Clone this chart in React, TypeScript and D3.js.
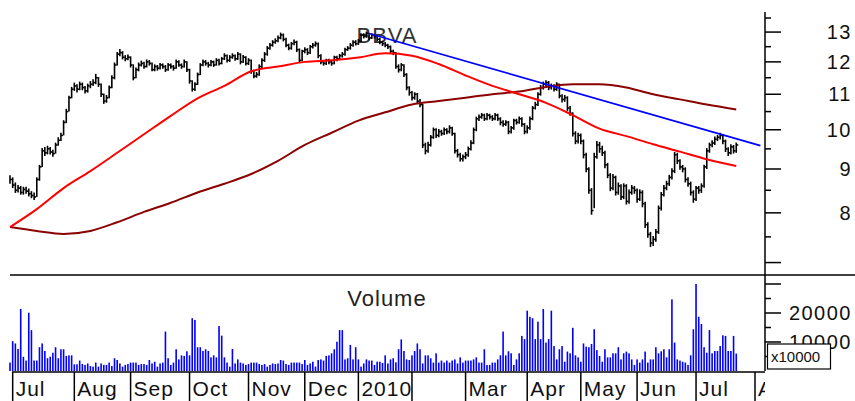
import React from "react";
import * as d3 from "d3";

const W = 855;
const H = 401;
const FONT = "'Liberation Sans', Arial, sans-serif";

// trading days start 2009-06-30; these are closed days skipped by the exchange
const holidays = ["2009-12-24", "2009-12-25", "2009-12-31", "2010-01-01", "2010-04-02", "2010-04-05"];
const monthLabels = ["Jul", "Aug", "Sep", "Oct", "Nov", "Dec", "2010", "", "Mar", "Apr", "May", "Jun", "Jul", "Aug"];

// daily bars (HLC), one per trading day
const close = [
  8.75, 8.62, 8.50, 8.55, 8.45, 8.52, 8.48, 8.42, 8.38, 8.35,
  8.75, 9.05, 9.45, 9.40, 9.50, 9.42, 9.38, 9.60, 9.72, 9.85,
  10.20, 10.50, 10.90, 11.15, 11.25, 11.15, 11.30, 11.20, 11.10, 11.25,
  11.30, 11.35, 11.50, 11.30, 11.00, 10.80, 10.90, 11.20, 11.50, 11.90,
  12.25, 12.30, 12.15, 12.10, 12.15, 11.90, 11.50, 11.75, 11.90, 11.95,
  11.85, 12.00, 11.95, 11.75, 11.85, 11.80, 11.90, 11.85, 11.75, 11.90,
  11.85, 11.80, 12.00, 11.90, 11.85, 12.00, 11.75, 11.40, 11.15, 11.30,
  11.60, 11.90, 12.00, 11.95, 11.90, 12.00, 11.90, 12.05, 11.95, 12.10,
  12.20, 12.05, 12.15, 12.20, 12.10, 12.25, 12.00, 12.15, 11.95, 12.05,
  11.70, 11.55, 11.60, 11.85, 12.05, 12.25, 12.45, 12.55, 12.65, 12.70,
  12.80, 12.90, 12.75, 12.55, 12.45, 12.60, 12.65, 12.40, 12.05, 12.35,
  12.40, 12.30, 12.50, 12.55, 12.60, 12.20, 12.00, 11.95, 12.05, 12.00,
  11.95, 12.15, 12.10, 12.20, 12.25, 12.40, 12.45, 12.55, 12.65, 12.60,
  12.70, 12.90, 12.85, 12.95, 12.80, 12.90, 12.85, 12.75, 12.65, 12.60,
  12.55, 12.50, 12.35, 12.30, 11.85, 11.75, 11.90, 11.60, 11.20, 11.05,
  10.90, 11.00, 10.80, 10.70, 9.60, 9.45, 9.60, 9.80, 10.00, 9.85,
  9.95, 9.90, 10.00, 9.95, 10.05, 9.90, 9.45, 9.35, 9.25, 9.30,
  9.35, 9.50, 9.65, 10.00, 10.30, 10.35, 10.40, 10.30, 10.40, 10.35,
  10.30, 10.40, 10.30, 10.20, 10.15, 10.20, 9.95, 10.05, 10.25, 10.20,
  10.30, 10.15, 9.95, 10.05, 10.30, 10.60, 10.70, 11.00, 11.20, 11.30,
  11.35, 11.20, 11.25, 11.15, 11.30, 10.95, 10.85, 10.90, 10.60, 10.45,
  9.90, 9.70, 9.85, 9.70, 9.35, 9.00, 8.50, 8.05, 9.30, 9.60,
  9.50, 9.40, 9.10, 8.85, 8.55, 8.80, 8.45, 8.60, 8.35, 8.60,
  8.25, 8.45, 8.55, 8.50, 8.30, 8.45, 8.20, 7.75, 7.55, 7.38,
  7.45, 7.60, 8.10, 8.40, 8.55, 8.65, 8.80, 8.95, 9.35, 9.20,
  9.05, 9.00, 8.75, 8.65, 8.45, 8.30, 8.55, 8.50, 8.60, 9.05,
  9.45, 9.60, 9.65, 9.75, 9.80, 9.85, 9.70, 9.50, 9.40, 9.55,
  9.45, 9.60,
];
const high = [
  8.85, 8.80, 8.68, 8.62, 8.60, 8.58, 8.58, 8.54, 8.48, 8.45,
  8.80, 9.10, 9.52, 9.55, 9.58, 9.55, 9.48, 9.66, 9.80, 9.92,
  10.26, 10.58, 10.96, 11.22, 11.35, 11.30, 11.38, 11.35, 11.25, 11.32,
  11.40, 11.45, 11.62, 11.52, 11.32, 11.02, 10.98, 11.26, 11.58, 11.98,
  12.32, 12.42, 12.35, 12.22, 12.24, 12.18, 11.92, 11.82, 11.98, 12.04,
  12.00, 12.08, 12.06, 11.98, 11.92, 11.90, 11.96, 11.95, 11.90, 11.96,
  11.95, 11.90, 12.08, 12.05, 11.95, 12.08, 12.02, 11.78, 11.42, 11.36,
  11.66, 11.96, 12.08, 12.06, 12.00, 12.06, 12.04, 12.12, 12.10, 12.16,
  12.28, 12.24, 12.22, 12.28, 12.24, 12.32, 12.28, 12.22, 12.18, 12.12,
  12.08, 11.75, 11.68, 11.92, 12.12, 12.32, 12.52, 12.62, 12.72, 12.78,
  12.88, 12.98, 12.95, 12.80, 12.60, 12.66, 12.74, 12.70, 12.44, 12.40,
  12.48, 12.45, 12.56, 12.62, 12.68, 12.64, 12.25, 12.06, 12.10, 12.10,
  12.05, 12.20, 12.20, 12.26, 12.32, 12.46, 12.52, 12.62, 12.72, 12.72,
  12.76, 12.96, 12.96, 13.02, 12.98, 12.96, 12.94, 12.90, 12.80, 12.70,
  12.66, 12.60, 12.54, 12.40, 12.32, 11.92, 11.96, 11.92, 11.64, 11.24,
  11.10, 11.06, 11.04, 10.86, 10.72, 9.66, 9.68, 9.86, 10.06, 10.04,
  10.02, 10.00, 10.06, 10.04, 10.12, 10.08, 9.92, 9.50, 9.40, 9.36,
  9.42, 9.56, 9.72, 10.06, 10.36, 10.42, 10.46, 10.44, 10.46, 10.44,
  10.40, 10.46, 10.44, 10.34, 10.26, 10.26, 10.24, 10.10, 10.30, 10.30,
  10.36, 10.34, 10.18, 10.12, 10.36, 10.66, 10.78, 11.06, 11.28, 11.38,
  11.42, 11.40, 11.32, 11.30, 11.36, 11.32, 11.00, 10.98, 10.94, 10.66,
  10.48, 9.96, 9.92, 9.90, 9.74, 9.40, 9.04, 8.55, 9.40, 9.70,
  9.68, 9.58, 9.45, 9.15, 8.90, 8.88, 8.84, 8.68, 8.64, 8.66,
  8.64, 8.52, 8.62, 8.60, 8.54, 8.52, 8.50, 8.24, 7.80, 7.60,
  7.52, 7.66, 8.16, 8.46, 8.62, 8.72, 8.86, 9.02, 9.42, 9.40,
  9.24, 9.10, 9.04, 8.80, 8.70, 8.50, 8.60, 8.60, 8.66, 9.10,
  9.52, 9.66, 9.72, 9.82, 9.86, 9.92, 9.88, 9.74, 9.54, 9.62,
  9.60, 9.66,
];
const low = [
  8.65, 8.55, 8.44, 8.45, 8.40, 8.40, 8.42, 8.36, 8.32, 8.28,
  8.35, 8.72, 9.05, 9.32, 9.36, 9.36, 9.30, 9.38, 9.58, 9.70,
  9.85, 10.18, 10.50, 10.88, 11.10, 11.05, 11.12, 11.12, 11.02, 11.05,
  11.18, 11.25, 11.30, 11.22, 10.92, 10.72, 10.75, 10.88, 11.18, 11.45,
  11.88, 12.18, 12.08, 12.02, 12.05, 11.82, 11.42, 11.48, 11.70, 11.85,
  11.78, 11.82, 11.88, 11.70, 11.70, 11.72, 11.76, 11.78, 11.68, 11.72,
  11.78, 11.72, 11.78, 11.84, 11.78, 11.82, 11.68, 11.32, 11.08, 11.10,
  11.28, 11.58, 11.86, 11.88, 11.82, 11.86, 11.84, 11.88, 11.88, 11.92,
  12.06, 11.98, 12.00, 12.10, 12.04, 12.06, 11.92, 11.96, 11.88, 11.90,
  11.62, 11.48, 11.50, 11.56, 11.80, 12.00, 12.20, 12.40, 12.50, 12.60,
  12.65, 12.75, 12.68, 12.48, 12.38, 12.40, 12.55, 12.32, 11.98, 12.02,
  12.28, 12.22, 12.26, 12.44, 12.50, 12.12, 11.92, 11.88, 11.90, 11.92,
  11.88, 11.92, 12.02, 12.06, 12.14, 12.20, 12.36, 12.40, 12.50, 12.54,
  12.56, 12.66, 12.78, 12.80, 12.72, 12.76, 12.78, 12.68, 12.58, 12.52,
  12.48, 12.42, 12.28, 12.22, 11.78, 11.66, 11.70, 11.52, 11.12, 10.96,
  10.82, 10.84, 10.72, 10.62, 9.52, 9.36, 9.40, 9.56, 9.76, 9.78,
  9.80, 9.84, 9.86, 9.88, 9.90, 9.84, 9.38, 9.28, 9.18, 9.18,
  9.24, 9.30, 9.46, 9.62, 9.96, 10.24, 10.30, 10.24, 10.26, 10.28,
  10.24, 10.26, 10.24, 10.12, 10.08, 10.10, 9.88, 9.90, 10.00, 10.14,
  10.16, 10.08, 9.88, 9.90, 10.00, 10.26, 10.56, 10.66, 10.96, 11.14,
  11.24, 11.12, 11.14, 11.08, 11.10, 10.88, 10.76, 10.78, 10.52, 10.38,
  9.82, 9.62, 9.64, 9.62, 9.26, 8.92, 8.42, 7.96, 8.10, 9.25,
  9.40, 9.32, 9.02, 8.78, 8.48, 8.50, 8.38, 8.40, 8.28, 8.30,
  8.18, 8.20, 8.40, 8.42, 8.22, 8.26, 8.12, 7.68, 7.48, 7.30,
  7.32, 7.40, 7.56, 8.05, 8.36, 8.50, 8.60, 8.75, 8.90, 9.12,
  8.98, 8.92, 8.68, 8.58, 8.38, 8.22, 8.26, 8.42, 8.44, 8.56,
  9.00, 9.40, 9.54, 9.60, 9.70, 9.74, 9.62, 9.42, 9.32, 9.36,
  9.38, 9.40,
];
// volume, in units of 10000 shares
const volume = [
  2900, 10300, 9500, 7600, 21400, 4900, 3600, 20100, 14100, 3600,
  3600, 8200, 9500, 6900, 4400, 4900, 6300, 8200, 4400, 7500,
  7500, 5200, 5400, 5400, 2300, 2300, 3600, 2400, 2100, 2600,
  1700, 1500, 2900, 1500, 2600, 2100, 2100, 2900, 1700, 4400,
  3800, 2600, 1500, 2100, 2400, 2900, 2900, 2900, 2100, 2400,
  2400, 2100, 3800, 2600, 3200, 1500, 2600, 2900, 13600, 4400,
  2100, 2900, 7500, 4000, 5400, 5200, 6800, 5400, 18200, 17600,
  8200, 8200, 6900, 7500, 6900, 4700, 5400, 4700, 15500, 12200,
  4700, 2900, 1500, 7600, 2600, 4000, 2900, 2600, 2100, 2400,
  2900, 2900, 2900, 2400, 2100, 2400, 1500, 2100, 2600, 2400,
  2600, 3800, 3600, 2400, 2100, 2900, 2900, 2900, 2900, 2400,
  3800, 2100, 2600, 3200, 1500, 3800, 4000, 3600, 5200, 5400,
  6100, 7500, 10100, 14100, 14100, 4000, 4400, 9000, 4000, 8200,
  4000, 1500, 2600, 4000, 3600, 3600, 2100, 3200, 3200, 2800,
  5400, 2600, 4000, 4400, 3000, 7500, 10900, 6900, 4000, 3800,
  5400, 6900, 9500, 7500, 2600, 5400, 5400, 4400, 2900, 6100,
  2900, 3600, 2900, 3600, 2900, 3600, 4000, 2600, 4700, 2900,
  3600, 3600, 3600, 4000, 4700, 2900, 2900, 7500, 2100, 2100,
  2900, 2900, 4000, 5400, 13600, 5400, 6800, 6100, 2100, 4000,
  6100, 12100, 11000, 20800, 18700, 18200, 11000, 17000, 11000, 21400,
  9800, 11000, 20800, 8600, 4000, 7500, 8600, 3200, 6700, 6100,
  14900, 5400, 4700, 3200, 9500, 8400, 8200, 9300, 14400, 7200,
  5200, 3200, 7500, 4700, 4700, 6100, 6100, 8200, 4000, 6100,
  6700, 6100, 4000, 2100, 4000, 2900, 4000, 6700, 2900, 4000,
  4000, 8200, 6100, 6800, 7500, 4700, 7500, 24700, 9800, 4000,
  3600, 3200, 2900, 2100, 5400, 14400, 30000, 18700, 16200, 8200,
  6300, 14100, 6100, 6900, 6900, 8600, 12300, 12100, 6900, 6900,
  12100, 6000,
];

// moving averages, read every 10 trading days
const maIdx = [0, 10, 20, 30, 40, 50, 60, 70, 80, 90, 100, 110, 120, 130, 140, 150, 160, 170, 180, 190, 200, 210, 220, 230, 240, 250, 260, 271];
const maShort = [7.7, 8.08, 8.55, 8.95, 9.4, 9.88, 10.38, 10.88, 11.25, 11.7, 11.85, 12.0, 12.05, 12.14, 12.28, 12.2, 11.93, 11.57, 11.25, 11.0, 10.75, 10.4, 10.03, 9.83, 9.62, 9.43, 9.24, 9.07];
const maLong = [7.7, 7.62, 7.56, 7.62, 7.8, 8.02, 8.22, 8.45, 8.65, 8.88, 9.2, 9.6, 9.92, 10.25, 10.48, 10.7, 10.8, 10.9, 11.0, 11.08, 11.22, 11.3, 11.3, 11.2, 11.0, 10.85, 10.7, 10.56];

// trend line endpoints (day index, price)
const trendIdx = [134, 280];
const trendVal = [12.95, 9.58];

const priceTicks = [7, 8, 9, 10, 11, 12, 13];
const priceMinor = [7.5, 8.5, 9.5, 10.5, 11.5, 12.5, 13.5];
const volTicks = [10000, 20000, 30000];
const volMinor = [5000, 15000, 25000];
const volLabels = [10000, 20000];

// build the list of trading days
const fmt = d3.timeFormat("%Y-%m-%d");
const days: Date[] = [];
{
  let d = new Date(2009, 5, 30);
  while (days.length < 285) {
    const dow = d.getDay();
    if (dow !== 0 && dow !== 6 && !holidays.includes(fmt(d))) days.push(d);
    d = d3.timeDay.offset(d, 1);
  }
}
const monthStarts: number[] = [];
for (let i = 1; i < days.length; i++) {
  if (days[i].getMonth() !== days[i - 1].getMonth()) monthStarts.push(i);
}

export default function App() {
  const x = d3.scaleLinear().domain([0, 278]).range([10, 755]);
  const yP = d3.scaleLog().domain([6.77, 13.72]).range([275, 12]);
  const yV = d3.scaleLinear().domain([0, 30000]).range([371, 284]);
  const axisX = 765;

  const maLine = d3
    .line<number>()
    .x((_, i) => x(maIdx[i]))
    .y((d) => yP(d))
    .curve(d3.curveMonotoneX);
  const trendLine = d3
    .line<number>()
    .x((_, i) => x(trendIdx[i]))
    .y((d) => yP(d));

  const ticks = monthStarts.slice(0, monthLabels.length);

  return (
    <svg
      width={W}
      height={H}
      style={{ position: "absolute", left: 0, top: 0, background: "#fff" }}
      fontFamily={FONT}
    >
      <defs>
        <clipPath id="xclip">
          <rect x={0} y={370} width={axisX} height={40} />
        </clipPath>
      </defs>

      {/* title */}
      <text x={387} y={43} textAnchor="middle" fontSize={22} fill="#333" letterSpacing={1}>
        BBVA
      </text>

      {/* price bars */}
      <g stroke="#000" strokeWidth={1.6}>
        {close.map((c, i) => {
          const xi = x(i);
          return (
            <g key={i}>
              <line x1={xi} x2={xi} y1={yP(high[i])} y2={yP(low[i])} />
              <line x1={xi} x2={xi + 2} y1={yP(c)} y2={yP(c)} />
            </g>
          );
        })}
      </g>

      {/* moving averages and trend line */}
      <path d={maLine(maLong) || ""} fill="none" stroke="#8b0000" strokeWidth={2} />
      <path d={maLine(maShort) || ""} fill="none" stroke="#ff0000" strokeWidth={2} />
      <path d={trendLine(trendVal) || ""} fill="none" stroke="#0000ff" strokeWidth={1.8} />

      {/* panel separators */}
      <line x1={10} x2={W} y1={275} y2={275} stroke="#000" strokeWidth={1.5} />
      <line x1={12} x2={axisX} y1={372} y2={372} stroke="#000" strokeWidth={1.5} />

      {/* volume */}
      <text x={387} y={306} textAnchor="middle" fontSize={22} fill="#222" letterSpacing={1}>
        Volume
      </text>
      <g fill="#0000ff">
        {volume.map((v, i) => (
          <rect key={i} x={x(i) - 0.8} width={1.6} y={yV(v)} height={yV(0) - yV(v)} />
        ))}
      </g>

      {/* right axis */}
      <line x1={axisX} x2={axisX} y1={12} y2={371} stroke="#000" strokeWidth={1.5} />
      <g stroke="#000" strokeWidth={1.5}>
        {priceTicks.map((t) => (
          <line key={"p" + t} x1={axisX} x2={axisX + 16} y1={yP(t)} y2={yP(t)} />
        ))}
        {priceMinor.map((t) => (
          <line key={"pm" + t} x1={axisX} x2={axisX + 6} y1={yP(t)} y2={yP(t)} />
        ))}
        {volTicks.map((t) => (
          <line key={"v" + t} x1={axisX} x2={axisX + 16} y1={yV(t)} y2={yV(t)} />
        ))}
        {volMinor.map((t) => (
          <line key={"vm" + t} x1={axisX} x2={axisX + 6} y1={yV(t)} y2={yV(t)} />
        ))}
      </g>
      <g fontSize={20} fill="#111" textAnchor="end" letterSpacing={1.5}>
        {priceTicks
          .filter((t) => t >= 8)
          .map((t) => (
            <text key={t} x={852} y={yP(t) + 7}>
              {t}
            </text>
          ))}
        {volLabels.map((t) => (
          <text key={t} x={852} y={yV(t) + 7}>
            {t}
          </text>
        ))}
      </g>
      <rect x={767.5} y={344} width={63} height={25} fill="#fff" stroke="#000" strokeWidth={1.2} />
      <text x={771} y={362} fontSize={15} fill="#111">
        x10000
      </text>

      {/* month axis */}
      <g stroke="#000" strokeWidth={1.5}>
        {ticks.map((k) => (
          <line key={k} x1={x(k)} x2={x(k)} y1={372} y2={H} />
        ))}
      </g>
      <g clipPath="url(#xclip)" fontSize={21} fill="#111" letterSpacing={1}>
        {ticks.map((k, i) => (
          <text key={k} x={x(k) + 3} y={396}>
            {monthLabels[i]}
          </text>
        ))}
      </g>
    </svg>
  );
}
